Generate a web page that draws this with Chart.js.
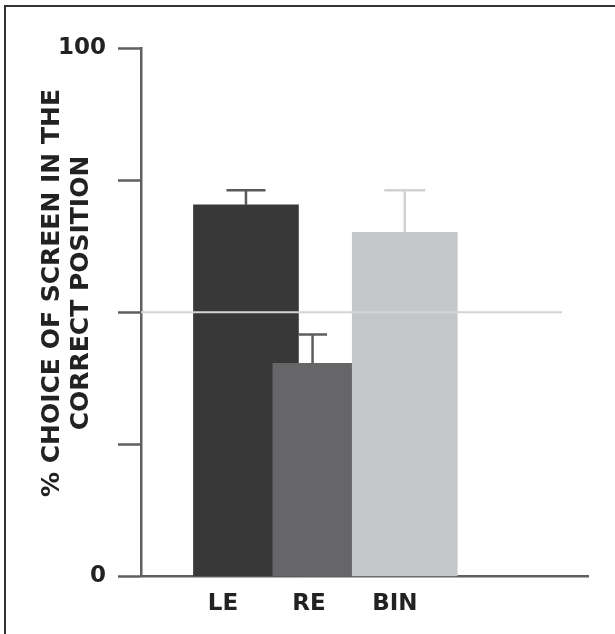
<!DOCTYPE html>
<html>
<head>
<meta charset="utf-8">
<script src="https://cdn.jsdelivr.net/npm/chart.js@4.4.1/dist/chart.umd.min.js"></script>
<style>
  html, body { margin: 0; padding: 0; background: #fff; }
  #wrap { position: relative; width: 615px; height: 634px; overflow: hidden; }
  #frame { position: absolute; left: 4px; top: 5px; width: 700px; height: 700px; border-left: 2px solid #333; border-top: 2px solid #333; pointer-events: none; }
</style>
</head>
<body>
<div id="wrap">
  <canvas id="myChart" width="615" height="634" style="width:615px;height:634px"></canvas>
  <div id="frame"></div>
</div>
<script>
const categories = ['LE', 'RE', 'BIN']
const values = [70.3, 40.3, 65.1]
const errors = [2.8, 5.5, 8.0]
const yTicks = [0, 25, 50, 75, 100]
const yLabels = ['0', '', '', '', '100']
const chance = 50
const titleLines = ['% CHOICE OF SCREEN IN THE', 'CORRECT POSITION']

const barColors = ['#383838', '#666669', '#c5c6c8']
const errorColors = ['#5a5a5a', '#5e5e5e', '#d2d2d2']
const capWidths = [39, 29, 41]
const axisColor = '#5f5f5f'
const textColor = '#222'
const font = '"DejaVu Sans", Verdana, sans-serif'

// error bars go up only, centred on the part of the bar that is not hidden by the next one
const errorBars = {
  id: 'errorBars',
  afterDatasetsDraw: (chart) => {
    const meta = chart.getDatasetMeta(1)
    const y = chart.scales.y
    const ctx = chart.ctx
    ctx.save()
    ctx.lineWidth = 2.5
    meta.data.forEach((bar, i) => {
      const left = bar.x - bar.width / 2
      let right = bar.x + bar.width / 2
      const next = meta.data[i + 1]
      if (next && next.y < bar.y) right = Math.min(right, next.x - next.width / 2)
      const cx = (left + right) / 2
      const top = y.getPixelForValue(values[i] + errors[i])
      ctx.strokeStyle = errorColors[i]
      ctx.beginPath()
      ctx.moveTo(cx, bar.y)
      ctx.lineTo(cx, top)
      ctx.moveTo(cx - capWidths[i] / 2, top)
      ctx.lineTo(cx + capWidths[i] / 2, top)
      ctx.stroke()
    })
    ctx.restore()
  }
}

const yTitle = {
  id: 'yTitle',
  afterDraw: (chart) => {
    const ctx = chart.ctx
    ctx.save()
    ctx.translate(0, 293)
    ctx.rotate(-Math.PI / 2)
    ctx.font = 'bold 25px ' + font
    ctx.fillStyle = textColor
    ctx.textAlign = 'center'
    ctx.textBaseline = 'middle'
    ctx.fillText(titleLines[0], 0, 52)
    ctx.fillText(titleLines[1], 0, 81)
    ctx.restore()
  }
}

const config = {
  type: 'bar',
  data: {
    datasets: [
      {
        type: 'line',
        data: [{ x: -1.322, y: chance }, { x: 3.98, y: chance }],
        borderColor: '#d4d4d4',
        borderWidth: 2,
        pointRadius: 0,
        order: 0
      },
      {
        data: categories.map((c, i) => ({ x: i, y: values[i] })),
        backgroundColor: barColors,
        barThickness: 105,
        order: 1
      }
    ]
  },
  options: {
    responsive: false,
    animation: false,
    layout: { padding: { left: 58, right: 27, top: 48, bottom: 2 } },
    plugins: {
      legend: { display: false },
      tooltip: { enabled: false }
    },
    scales: {
      x: { type: 'linear', display: false, offset: false, min: -1.322, max: 4.308 },
      xl: {
        type: 'linear',
        position: 'bottom',
        offset: false,
        min: -0.953,
        max: 4.245,
        afterBuildTicks: (s) => { s.ticks = categories.map((c, i) => ({ value: i })) },
        ticks: {
          callback: (v) => categories[v],
          color: textColor,
          font: { family: font, size: 23, weight: 'bold' },
          padding: 14,
          autoSkip: false,
          maxRotation: 0
        },
        grid: { display: false, drawTicks: false, offset: false },
        border: { display: true, color: axisColor, width: 2.5 }
      },
      y: {
        min: 0,
        max: 100,
        afterFit: (s) => { s.width = 83 },
        afterBuildTicks: (s) => { s.ticks = yTicks.map((v) => ({ value: v })) },
        ticks: {
          callback: (v, i) => yLabels[i],
          color: textColor,
          font: { family: font, size: 23, weight: 'bold' },
          padding: 12
        },
        grid: { drawOnChartArea: false, tickLength: 23, tickWidth: 2.5, tickColor: axisColor, color: axisColor },
        border: { color: axisColor, width: 2.5 }
      }
    }
  },
  plugins: [errorBars, yTitle]
}

const myChart = new Chart(document.getElementById('myChart'), config)
</script>
</body>
</html>
